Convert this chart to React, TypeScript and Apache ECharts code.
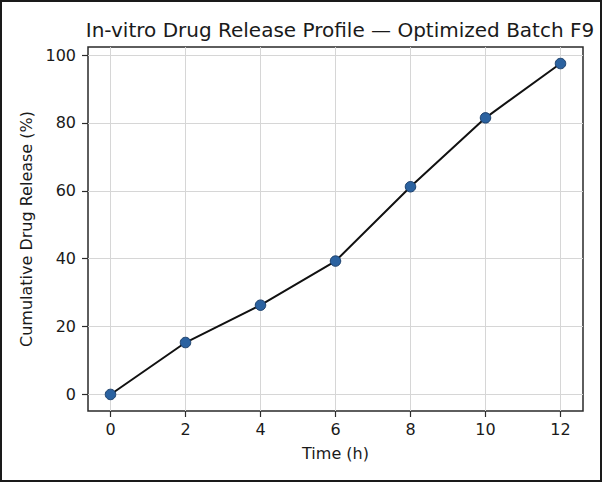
import React, { useEffect, useRef } from "react";
import * as echarts from "echarts";

const timeHours = [0, 2, 4, 6, 8, 10, 12];
const releasePct = [0, 15.3, 26.3, 39.3, 61.2, 81.5, 97.5];
const xTicks = [0, 2, 4, 6, 8, 10, 12];
const yTicks = [0, 20, 40, 60, 80, 100];

const FONT = "DejaVu Sans";

export default function App() {
  const ref = useRef<HTMLDivElement>(null);
  useEffect(() => {
    document.body.style.margin = "0";
    const chart = echarts.init(ref.current!, null, { renderer: "svg" });
    const xMin = -0.6;
    const xMax = 12.6;
    const yMax0 = Math.max(...releasePct);
    const yPad = yMax0 * 0.05;
    chart.setOption({
      animation: false,
      backgroundColor: "#ffffff",
      textStyle: { fontFamily: FONT },
      title: {
        text: "In-vitro Drug Release Profile — Optimized Batch F9",
        left: 335,
        textAlign: "center",
        top: 15,
        textStyle: { fontFamily: FONT, fontSize: 20, fontWeight: "normal", color: "#1a1a1a" },
      },
      graphic: [
        {
          type: "rect",
          shape: { x: 1, y: 1, width: 600, height: 480 },
          style: { fill: "none", stroke: "#1a1a1a", lineWidth: 2 },
          silent: true,
        },
      ],
      grid: {
        left: 88,
        top: 47,
        right: 20,
        bottom: 72,
        show: true,
        borderColor: "#2a2a2a",
        borderWidth: 1.5,
        backgroundColor: "transparent",
      },
      xAxis: {
        type: "value",
        min: xMin,
        max: xMax,
        splitNumber: 6,
        name: "Time (h)",
        nameLocation: "middle",
        nameGap: 34,
        nameTextStyle: { fontFamily: FONT, fontSize: 16, color: "#1a1a1a" },
        axisLine: { show: false, onZero: false },
        axisTick: { show: true, inside: false, length: 6, lineStyle: { color: "#2a2a2a", width: 1.2 }, customValues: xTicks },
        axisLabel: { fontFamily: FONT, fontSize: 16, color: "#1a1a1a", margin: 10, customValues: xTicks },
        splitLine: { show: true, lineStyle: { color: "#d6d6d6", width: 1 } },
      },
      yAxis: {
        type: "value",
        min: -yPad,
        max: yMax0 + yPad,
        splitNumber: 5,
        name: "Cumulative Drug Release (%)",
        nameLocation: "middle",
        nameGap: 51,
        nameTextStyle: { fontFamily: FONT, fontSize: 16, color: "#1a1a1a" },
        axisLine: { show: false, onZero: false },
        axisTick: { show: true, inside: false, length: 6, lineStyle: { color: "#2a2a2a", width: 1.2 }, customValues: yTicks },
        axisLabel: { fontFamily: FONT, fontSize: 16, color: "#1a1a1a", margin: 12, customValues: yTicks },
        splitLine: { show: true, lineStyle: { color: "#d6d6d6", width: 1 } },
      },
      series: [
        {
          type: "line",
          data: timeHours.map((t, i) => [t, releasePct[i]]),
          lineStyle: { color: "#111111", width: 2 },
          symbol: "circle",
          symbolSize: 10.5,
          itemStyle: { color: "#2b62a0", borderColor: "#1b3f6b", borderWidth: 1 },
          z: 5,
        },
      ],
    });
    return () => chart.dispose();
  }, []);
  return <div ref={ref} style={{ width: 603, height: 483 }} />;
}
